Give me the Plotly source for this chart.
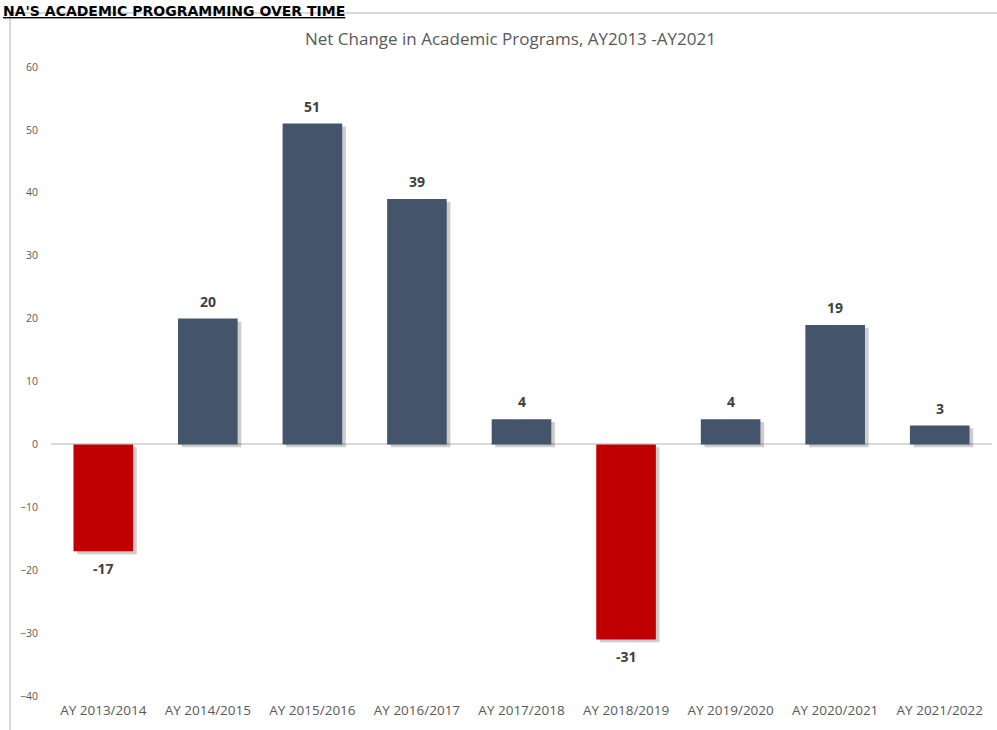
import plotly.graph_objects as go

categories = ["AY 2013/2014", "AY 2014/2015", "AY 2015/2016", "AY 2016/2017", "AY 2017/2018",
              "AY 2018/2019", "AY 2019/2020", "AY 2020/2021", "AY 2021/2022"]
net_change = [-17, 20, 51, 39, 4, -31, 4, 19, 3]
y_ticks = [-40, -30, -20, -10, 0, 10, 20, 30, 40, 50, 60]

NAVY = "#44546A"
RED = "#C00000"
bar_colors = [RED if v < 0 else NAVY for v in net_change]

# plot-area geometry (pixels) for converting decorations
L, R, T, B = 51, 5, 67, 34
W, H = 997, 730
pw, ph = W - L - R, H - T - B
def px(x): return (x - L) / pw
def py(y): return (H - B - y) / ph

fig = go.Figure()
# soft drop shadow
fig.add_trace(go.Bar(
    x=categories, y=net_change, base=-0.45, width=0.57, offset=-0.285 + 0.035,
    marker=dict(color="rgba(0,0,0,0.2)", line=dict(width=0)),
    hoverinfo="skip", showlegend=False))
fig.add_trace(go.Bar(
    x=categories, y=net_change, width=0.57, offset=-0.285,
    marker=dict(color=bar_colors, line=dict(width=0)),
    showlegend=False))

# data labels
for c, v in zip(categories, net_change):
    fig.add_annotation(
        x=c, y=v, xref="x", yref="y", text=str(v), showarrow=False,
        yanchor="bottom" if v >= 0 else "top", yshift=6 if v >= 0 else -6,
        font=dict(family="Open Sans", size=14, color="#404040", weight="bold"))

fig.update_layout(
    width=W, height=H, barmode="overlay",
    margin=dict(l=L, r=R, t=T, b=B),
    plot_bgcolor="white", paper_bgcolor="white",
    font=dict(family="Open Sans", color="#595959"),
    xaxis=dict(showgrid=False, showline=False, zeroline=False, ticks="",
               tickfont=dict(size=13.5, color="#595959"), ticklabelstandoff=4),
    yaxis=dict(range=[-40, 60], tickvals=y_ticks, showgrid=False, showline=False,
               zeroline=True, zerolinecolor="#D9D9D9", zerolinewidth=1.5,
               tickfont=dict(size=10.5, color="#595959"), ticklabelstandoff=12),
    showlegend=False,
)

fig.add_annotation(
    text="Net Change in Academic Programs, AY2013 -AY2021",
    xref="paper", yref="paper", x=px(510), y=py(38), xanchor="center", yanchor="middle",
    showarrow=False, font=dict(family="Open Sans", size=17, color="#595959"))

fig.add_annotation(
    text="<b><u>NA'S ACADEMIC PROGRAMMING OVER TIME</u></b>",
    xref="paper", yref="paper", x=px(1), y=py(1), xanchor="left", yanchor="top",
    showarrow=False, font=dict(family="DejaVu Sans", size=14, color="#000000"))

# chart-area border (top and left edges visible)
fig.add_shape(type="line", xref="paper", yref="paper", x0=px(10), x1=px(1000), y0=py(13), y1=py(13),
              line=dict(color="#D9D9D9", width=2))
fig.add_shape(type="line", xref="paper", yref="paper", x0=px(10), x1=px(10), y0=py(13), y1=py(735),
              line=dict(color="#D9D9D9", width=2))

fig.write_html("out.html")
